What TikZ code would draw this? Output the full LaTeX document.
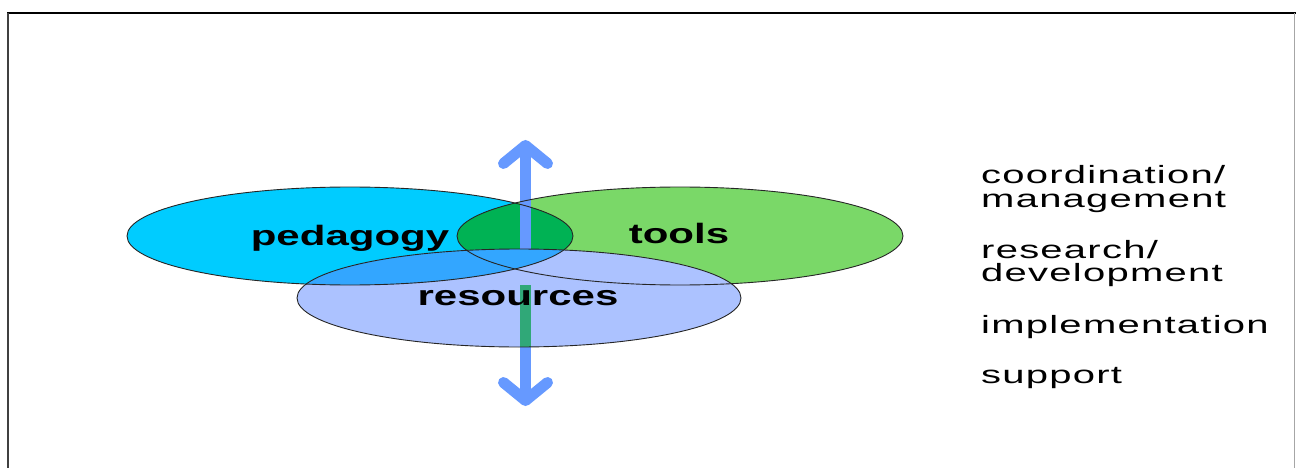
\documentclass[tikz,border=0pt]{standalone}
\usepackage{fontspec}
\usetikzlibrary{arrows.meta}

\newfontfamily\vennfont[FakeStretch=1.5]{Liberation Sans}
\newfontfamily\listfont[FakeStretch=1.6,LetterSpace=5]{Liberation Sans}

\definecolor{pedcyan}{RGB}{0,204,255}
\definecolor{toolgreen}{RGB}{122,216,104}
\definecolor{lensgreen}{RGB}{0,178,84}
\definecolor{reslight}{RGB}{172,194,255}
\definecolor{resdeep}{RGB}{51,166,255}
\definecolor{axisblue}{RGB}{102,153,255}
\definecolor{axisteal}{RGB}{48,168,120}

\def\pedellipse{(350,236) ellipse [x radius=223pt, y radius=49pt]}
\def\toolsellipse{(680,236) ellipse [x radius=223pt, y radius=49pt]}
\def\resellipse{(519,298) ellipse [x radius=222pt, y radius=49pt]}

\begin{document}
\begin{tikzpicture}[x=1pt, y=-1pt]
    \tikzstyle{outline}=[draw=black!85, line width=0.9pt]
    \tikzstyle{venn label}=[inner sep=0pt, anchor=base, font=\vennfont\bfseries\fontsize{28}{28}\selectfont]
    \tikzstyle{list label}=[inner sep=0pt, anchor=base west, font=\listfont\fontsize{25}{25}\selectfont]
    \tikzstyle{axis}=[line width=11pt, axisblue,
        {Straight Barb[length=18pt, width=44pt, round]}-{Straight Barb[length=18pt, width=44pt, round]}]

    \fill[white] (0,0) rectangle (1296,468);
    \useasboundingbox (0,0) rectangle (1296,468);

    % frame
    \draw[line width=2pt, black] (7,13) -- (1296,13);
    \draw[line width=2pt, black!75] (8,13) -- (8,468);
    \draw[line width=1.5pt, black!35] (1294.5,13) -- (1294.5,468);

    % the three circles
    \fill[pedcyan] \pedellipse;
    \fill[toolgreen] \toolsellipse;
    \begin{scope}
        \clip \toolsellipse;
        \fill[lensgreen] \pedellipse;
    \end{scope}

    \coordinate (up) at (525.5,140);
    \coordinate (down) at (525.5,406);
    \draw[axis] (up) -- (down);

    \fill[reslight] \resellipse;
    \begin{scope}
        \clip \resellipse;
        \fill[resdeep] \pedellipse;
    \end{scope}

    \coordinate (res-mid) at (525.5,285);
    \coordinate (res-low) at (525.5,347);
    \draw[line width=11pt, axisteal] (res-mid) -- (res-low);

    \draw[outline] \pedellipse;
    \draw[outline] \toolsellipse;
    \draw[outline] \resellipse;

    \node[venn label] (ped) at (350,245) {pedagogy};
    \node[venn label] (tools) at (679,243) {tools};
    \node[venn label] (res) at (518,305) {resources};

    % levels on the right
    \foreach \y/\txt [count=\i] in {183/coordination\slash, 207/management,
                                    258/research\slash, 281/development,
                                    333/implementation, 383/support}
        \node[list label] (level-\i) at (981,\y) {\txt};
\end{tikzpicture}
\end{document}
